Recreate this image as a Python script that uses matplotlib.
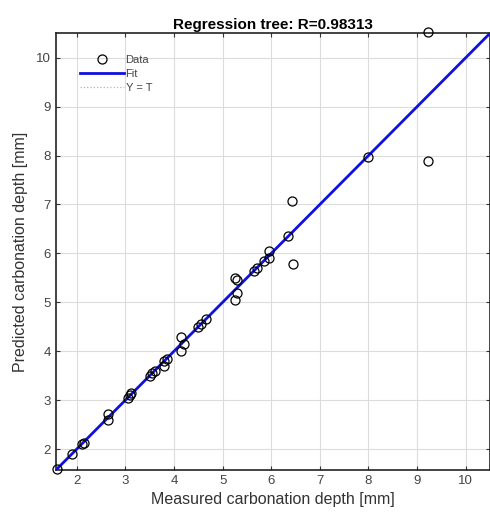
import matplotlib
matplotlib.use("Agg")
import matplotlib.pyplot as plt
import numpy as np

plt.rcParams["font.family"] = ["Liberation Sans", "DejaVu Sans"]

# measured vs predicted carbonation depth [mm]
measured = [1.60, 1.90, 2.10, 2.15, 2.65, 2.65, 3.05, 3.10, 3.12, 3.50,
            3.55, 3.60, 3.80, 3.80, 3.85, 4.15, 4.15, 4.20, 4.50, 4.55,
            4.65, 5.25, 5.25, 5.30, 5.30, 5.65, 5.70, 5.85, 5.95, 5.95,
            6.35, 6.43, 6.45, 7.99, 9.22, 9.22]
predicted = [1.60, 1.90, 2.10, 2.12, 2.72, 2.60, 3.05, 3.10, 3.15, 3.50,
             3.55, 3.60, 3.70, 3.80, 3.85, 4.30, 4.00, 4.15, 4.50, 4.55,
             4.65, 5.50, 5.05, 5.20, 5.45, 5.65, 5.70, 5.85, 6.05, 5.90,
             6.36, 7.08, 5.78, 7.98, 10.52, 7.89]
fit_slope = 1.0
fit_intercept = 0.0
r_value = 0.98313
ticks = [2, 3, 4, 5, 6, 7, 8, 9, 10]
lims = (1.57, 10.5)

fig = plt.figure(figsize=(4.9, 5.2), dpi=100)
ax = fig.add_axes([0.114, 0.096, 0.886, 0.840])

line_x = np.array(lims)
ax.plot(measured, predicted, "o", mfc="none", mec="black", ms=6.5, mew=0.9,
        label="Data", zorder=4, clip_on=False)
ax.plot(line_x, fit_slope * line_x + fit_intercept, color="#1010e0", lw=2.0,
        label="Fit", zorder=3)
ax.plot(line_x, line_x, ":", color="#b8b8a0", lw=0.9, label="Y = T", zorder=2)

ax.set_xlim(*lims)
ax.set_ylim(*lims)
ax.set_xticks(ticks)
ax.set_yticks(ticks)
ax.grid(True, color="#dcdcdc", lw=0.8)
ax.set_axisbelow(True)
ax.tick_params(direction="in", top=True, right=True, length=3,
               labelsize=9.5, colors="#333333", labelcolor="#444444")
for s in ax.spines.values():
    s.set_linewidth(1.2)
    s.set_color("#222222")

ax.set_xlabel("Measured carbonation depth [mm]", fontsize=11.5, color="#333333",
              labelpad=4)
ax.set_ylabel("Predicted carbonation depth [mm]", fontsize=11.5, color="#333333",
              labelpad=6)
ax.set_title(f"Regression tree: R={r_value:.5f}", fontsize=11, fontweight="bold",
             pad=3)

leg = ax.legend(loc="upper left", frameon=False, fontsize=8,
                bbox_to_anchor=(0.03, 0.975), handlelength=4.0,
                handletextpad=0.1, labelspacing=0.35, borderaxespad=0.6)
for t in leg.get_texts():
    t.set_color("#444444")

fig.savefig("out.png", dpi=100)
